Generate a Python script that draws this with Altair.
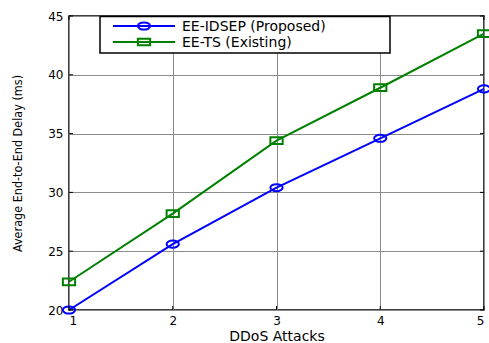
import altair as alt
import pandas as pd

# Average end-to-end delay (ms) against the number of DDoS attacks
attacks = [1, 2, 3, 4, 5]
proposed = [20.0, 25.6, 30.4, 34.6, 38.8]
existing = [22.4, 28.2, 34.4, 38.9, 43.5]

series = ["EE-IDSEP (Proposed)", "EE-TS (Existing)"]
colors = ["#0000ff", "#008000"]

x_ticks = [1, 2, 3, 4, 5]
y_ticks = [20, 25, 30, 35, 40, 45]

# Wide, flattened markers: an open ellipse and an open rectangle
ellipse = "M -1 0 A 1 0.58 0 1 0 1 0 A 1 0.58 0 1 0 -1 0 Z"
rectangle = "M -1 -0.55 L 1 -0.55 L 1 0.55 L -1 0.55 Z"
shapes = [ellipse, rectangle]

W, H = 415, 294
FONT = "DejaVu Sans"
NARROW = "DejaVu Sans Condensed, Liberation Sans, Arial, sans-serif"

rows = []
for a, p, e in zip(attacks, proposed, existing):
    rows.append({"attacks": a, "delay": p, "series": series[0]})
    rows.append({"attacks": a, "delay": e, "series": series[1]})
df = pd.DataFrame(rows)

x_scale = alt.Scale(domain=[1, 5], nice=False, zero=False)
y_scale = alt.Scale(domain=[20, 45], nice=False, zero=False)
color = alt.Color("series:N", scale=alt.Scale(domain=series, range=colors), legend=None)
shape = alt.Shape("series:N", scale=alt.Scale(domain=series, range=shapes), legend=None)

x_axis = alt.Axis(
    values=x_ticks, title="DDoS Attacks", grid=True, gridColor="#8c8c8c", gridWidth=1,
    ticks=False, domain=False, labelFont=FONT, labelFontSize=12, labelColor="black",
    labelPadding=5, titleFont=FONT, titleFontSize=14, titleFontWeight="normal",
    titleColor="black", titlePadding=3, format="d",
)
y_axis = alt.Axis(
    values=y_ticks, title="Average End-to-End Delay (ms)", grid=True, gridColor="#8c8c8c",
    gridWidth=1, ticks=False, domain=False, labelFont=FONT, labelFontSize=12,
    labelColor="black", labelPadding=6, titleFont=NARROW,
    titleFontSize=12.5, titleFontWeight="normal", titleColor="black",
    titleX=-52, titleY=H / 2, titleAngle=270, titleAlign="center", titleBaseline="middle",
)

base = alt.Chart(df)
lines = base.mark_line(strokeWidth=2).encode(
    x=alt.X("attacks:Q", scale=x_scale, axis=x_axis),
    y=alt.Y("delay:Q", scale=y_scale, axis=y_axis),
    color=color,
)
points = base.mark_point(filled=False, size=150, strokeWidth=2, opacity=1).encode(
    x=alt.X("attacks:Q", scale=x_scale),
    y=alt.Y("delay:Q", scale=y_scale),
    color=color,
    shape=shape,
)

# Inward tick marks on all four sides of the box
xt = alt.Chart(pd.DataFrame({"attacks": x_ticks}))
yt = alt.Chart(pd.DataFrame({"delay": y_ticks}))
tick_style = dict(color="black", strokeWidth=1)
ticks = [
    xt.mark_rule(**tick_style).encode(x=alt.X("attacks:Q", scale=x_scale), y=alt.value(H), y2=alt.value(H - 4)),
    xt.mark_rule(**tick_style).encode(x=alt.X("attacks:Q", scale=x_scale), y=alt.value(0), y2=alt.value(4)),
    yt.mark_rule(**tick_style).encode(y=alt.Y("delay:Q", scale=y_scale), x=alt.value(0), x2=alt.value(4)),
    yt.mark_rule(**tick_style).encode(y=alt.Y("delay:Q", scale=y_scale), x=alt.value(W), x2=alt.value(W - 4)),
]

# Boxed legend in the upper-left corner of the plot
one = alt.Chart(pd.DataFrame({"k": [0]}))
legend_layers = [
    one.mark_rect(fill="white", stroke="black", strokeWidth=1.5).encode(
        x=alt.value(31), x2=alt.value(321), y=alt.value(0.5), y2=alt.value(37)
    )
]
for i, name in enumerate(series):
    ly = 10 + 16 * i
    legend_layers.append(
        one.mark_rule(color=colors[i], strokeWidth=2).encode(
            x=alt.value(44), x2=alt.value(106), y=alt.value(ly)
        )
    )
    legend_layers.append(
        one.mark_point(filled=False, size=150, strokeWidth=2, color=colors[i], shape=shapes[i], opacity=1).encode(
            x=alt.value(75), y=alt.value(ly)
        )
    )
    legend_layers.append(
        one.mark_text(align="left", baseline="middle", font=FONT, fontSize=14, color="black", text=name).encode(
            x=alt.value(113), y=alt.value(ly + 1)
        )
    )

chart = alt.layer(lines, points, *ticks, *legend_layers).properties(
    width=W,
    height=H,
    autosize=alt.AutoSizeParams(type="none"),
    padding={"left": 69, "top": 16, "right": 5, "bottom": 33},
    background="white",
).configure_view(stroke="black", strokeWidth=1.5)

chart.save("out.html", embed_options={"renderer": "svg", "actions": False})
